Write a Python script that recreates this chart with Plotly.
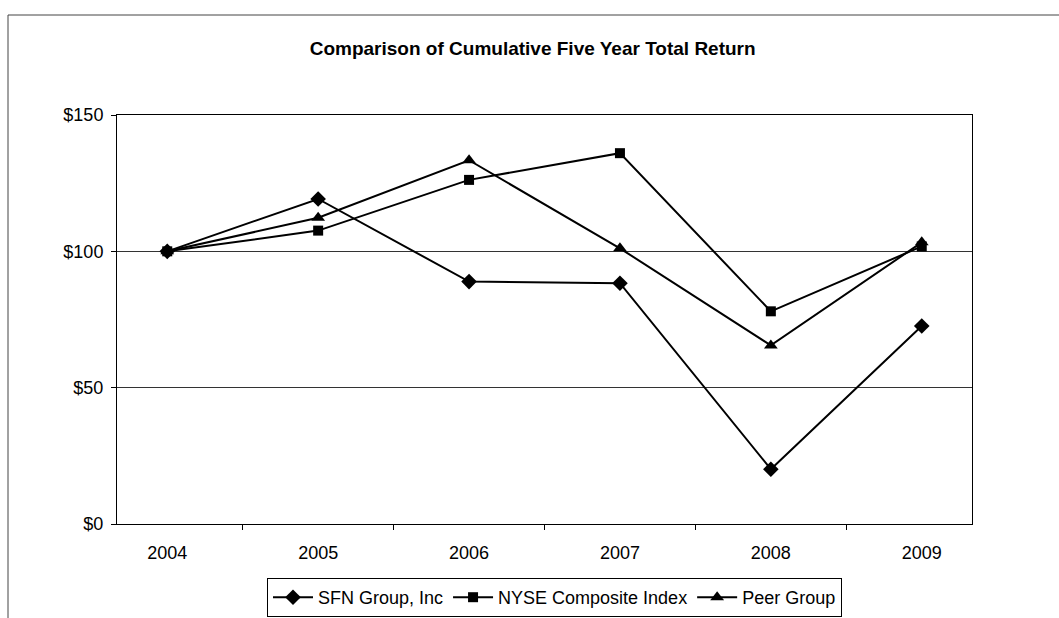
import plotly.graph_objects as go

years = ["2004", "2005", "2006", "2007", "2008", "2009"]
sfn = [100, 119.2, 88.9, 88.3, 20.1, 72.6]
nyse = [100, 107.6, 126.2, 136.0, 78.0, 101.8]
peer = [100, 112.3, 133.4, 101.1, 65.5, 103.3]

FONT = "Arial, Liberation Sans, sans-serif"

fig = go.Figure()
fig.add_trace(go.Scatter(x=years, y=sfn, name="SFN Group, Inc", mode="lines+markers",
                         line=dict(color="black", width=2),
                         marker=dict(symbol="diamond", size=12, color="black")))
fig.add_trace(go.Scatter(x=years, y=nyse, name="NYSE Composite Index", mode="lines+markers",
                         line=dict(color="black", width=2),
                         marker=dict(symbol="square", size=10, color="black")))
fig.add_trace(go.Scatter(x=years, y=peer, name="Peer Group", mode="lines+markers",
                         line=dict(color="black", width=2),
                         marker=dict(symbol="triangle-up", size=12, color="black")))

L, R, T, B = 117, 87, 115, 94
W, H = 1059, 618
pw, ph = W - L - R, H - T - B

def px_x(px):
    return (px - L) / pw

def px_y(py):
    return (H - B - py) / ph

fig.update_layout(
    width=W, height=H,
    margin=dict(l=L, r=R, t=T, b=B, autoexpand=False),
    paper_bgcolor="white", plot_bgcolor="white",
    font=dict(family=FONT, color="black", size=18),
    title=dict(text="<b>Comparison of Cumulative Five Year Total Return</b>",
               x=0.503, xanchor="center", y=1 - 48 / H, yanchor="middle",
               font=dict(size=19, family=FONT, color="black")),
    showlegend=True,
    legend=dict(orientation="h", xref="container", yref="container",
                x=554.5 / W, xanchor="center", y=1 - 578 / H, yanchor="top",
                bordercolor="black", borderwidth=1, bgcolor="white",
                font=dict(size=18, family=FONT), itemwidth=40, tracegroupgap=0,
                entrywidthmode="pixels"),
    xaxis=dict(type="category", showline=True, linecolor="black", linewidth=1, mirror=True,
               ticks="outside", ticklen=5, tickcolor="black", tickson="boundaries",
               showgrid=False, tickfont=dict(size=18, family=FONT), fixedrange=True,
               ticklabelstandoff=12),
    yaxis=dict(range=[0, 150], dtick=50, tickprefix="$", showline=True, linecolor="black",
               linewidth=1, mirror=True, ticks="outside", ticklen=5, tickcolor="black",
               showgrid=True, gridcolor="#333333", gridwidth=1, zeroline=False,
               tickfont=dict(size=18, family=FONT), fixedrange=True,
               ticklabelstandoff=4),
)

# outer chart-area frame (left and top edges visible in reference)
fig.add_shape(type="line", xref="paper", yref="paper",
              x0=px_x(8), x1=px_x(8), y0=px_y(15), y1=px_y(618),
              line=dict(color="#444444", width=1))
fig.add_shape(type="line", xref="paper", yref="paper",
              x0=px_x(8), x1=px_x(1059), y0=px_y(15), y1=px_y(15),
              line=dict(color="#444444", width=1))

fig.write_html("out.html")
